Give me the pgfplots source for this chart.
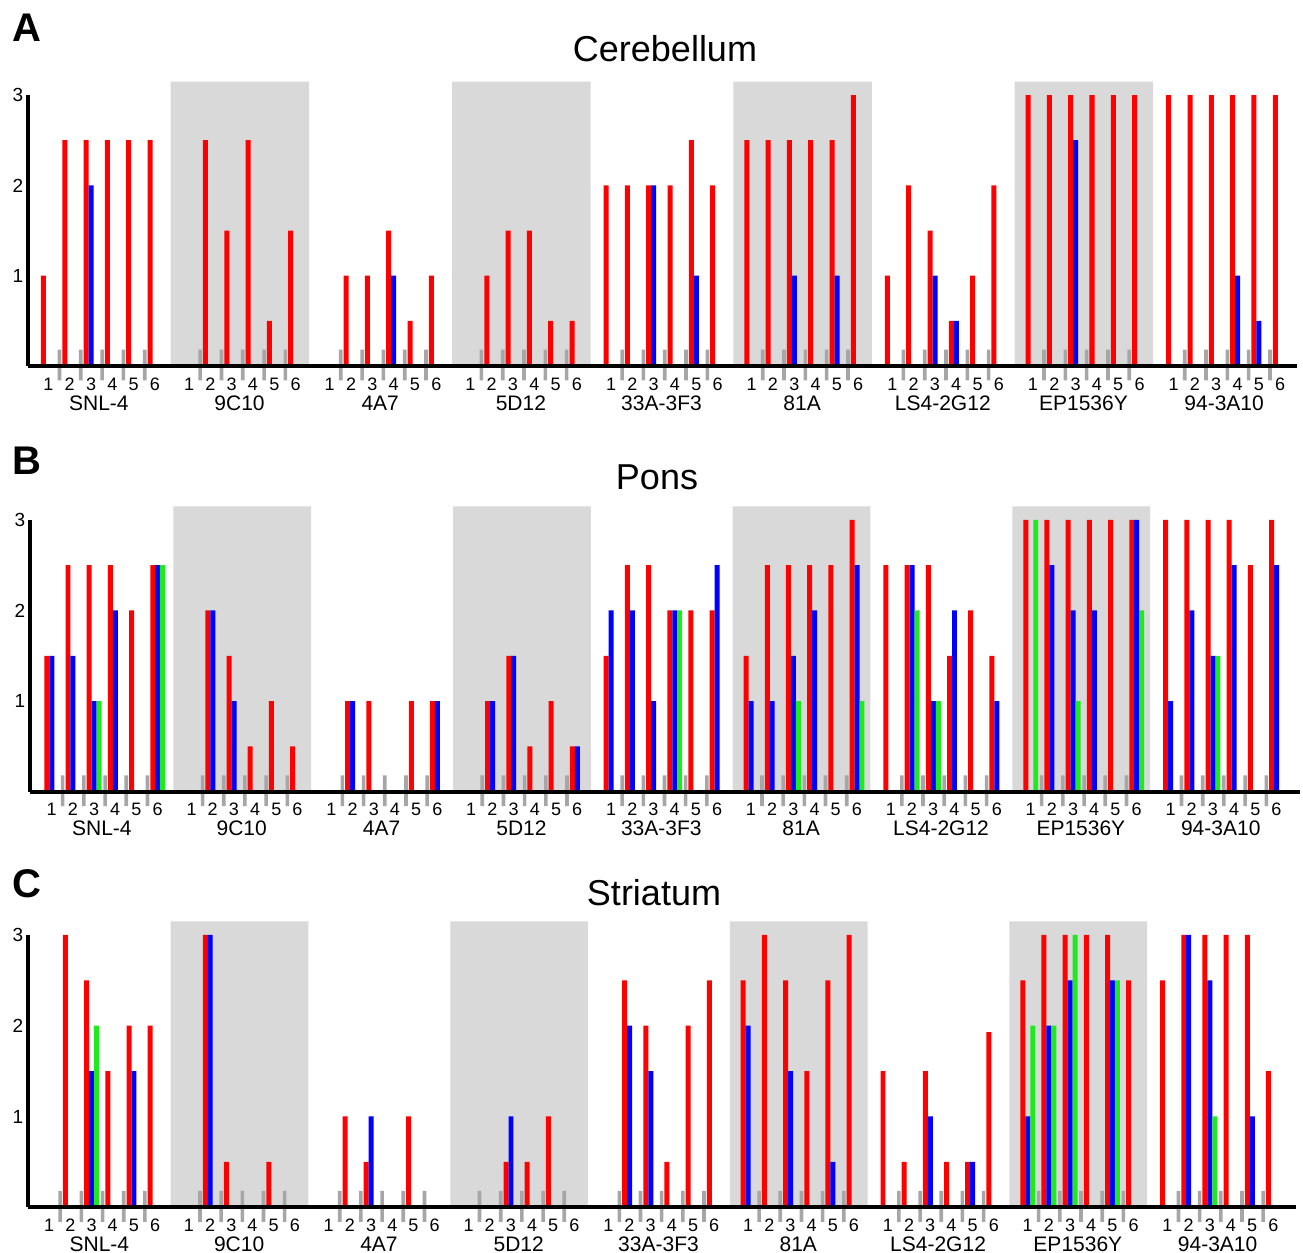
\documentclass[border=0pt]{standalone}
\usepackage{fontspec}
\setmainfont{Liberation Sans}
\usepackage{pgfplots}
\pgfplotsset{compat=1.18}
\usepackage{pgfplotstable}

\definecolor{rbar}{RGB}{255,0,0}
\definecolor{bbar}{RGB}{0,0,255}
\definecolor{gbar}{RGB}{30,235,30}
\definecolor{tickgray}{RGB}{166,166,166}
\definecolor{shade}{RGB}{217,217,217}

% g = antibody group (0..8), c = case (1..6), r/b/gr = red/blue/green score
\pgfplotstableread{
g c r b gr
0 1 1 0 0
0 2 2.5 0 0
0 3 2.5 2 0
0 4 2.5 0 0
0 5 2.5 0 0
0 6 2.5 0 0
1 1 0 0 0
1 2 2.5 0 0
1 3 1.5 0 0
1 4 2.5 0 0
1 5 0.5 0 0
1 6 1.5 0 0
2 1 0 0 0
2 2 1 0 0
2 3 1 0 0
2 4 1.5 1 0
2 5 0.5 0 0
2 6 1 0 0
3 1 0 0 0
3 2 1 0 0
3 3 1.5 0 0
3 4 1.5 0 0
3 5 0.5 0 0
3 6 0.5 0 0
4 1 2 0 0
4 2 2 0 0
4 3 2 2 0
4 4 2 0 0
4 5 2.5 1 0
4 6 2 0 0
5 1 2.5 0 0
5 2 2.5 0 0
5 3 2.5 1 0
5 4 2.5 0 0
5 5 2.5 1 0
5 6 3 0 0
6 1 1 0 0
6 2 2 0 0
6 3 1.5 1 0
6 4 0.5 0.5 0
6 5 1 0 0
6 6 2 0 0
7 1 3 0 0
7 2 3 0 0
7 3 3 2.5 0
7 4 3 0 0
7 5 3 0 0
7 6 3 0 0
8 1 3 0 0
8 2 3 0 0
8 3 3 0 0
8 4 3 1 0
8 5 3 0.5 0
8 6 3 0 0
}\cerebellum

\pgfplotstableread{
g c r b gr
0 1 1.5 1.5 0
0 2 2.5 1.5 0
0 3 2.5 1 1
0 4 2.5 2 0
0 5 2 0 0
0 6 2.5 2.5 2.5
1 1 0 0 0
1 2 2 2 0
1 3 1.5 1 0
1 4 0.5 0 0
1 5 1 0 0
1 6 0.5 0 0
2 1 0 0 0
2 2 1 1 0
2 3 1 0 0
2 4 0 0 0
2 5 1 0 0
2 6 1 1 0
3 1 0 0 0
3 2 1 1 0
3 3 1.5 1.5 0
3 4 0.5 0 0
3 5 1 0 0
3 6 0.5 0.5 0
4 1 1.5 2 0
4 2 2.5 2 0
4 3 2.5 1 0
4 4 2 2 2
4 5 2 0 0
4 6 2 2.5 0
5 1 1.5 1 0
5 2 2.5 1 0
5 3 2.5 1.5 1
5 4 2.5 2 0
5 5 2.5 0 0
5 6 3 2.5 1
6 1 2.5 0 0
6 2 2.5 2.5 2
6 3 2.5 1 1
6 4 1.5 2 0
6 5 2 0 0
6 6 1.5 1 0
7 1 3 0 3
7 2 3 2.5 0
7 3 3 2 1
7 4 3 2 0
7 5 3 0 0
7 6 3 3 2
8 1 3 1 0
8 2 3 2 0
8 3 3 1.5 1.5
8 4 3 2.5 0
8 5 2.5 0 0
8 6 3 2.5 0
}\pons

\pgfplotstableread{
g c r b gr
0 1 0 0 0
0 2 3 0 0
0 3 2.5 1.5 2
0 4 1.5 0 0
0 5 2 1.5 0
0 6 2 0 0
1 1 0 0 0
1 2 3 3 0
1 3 0.5 0 0
1 4 0 0 0
1 5 0.5 0 0
1 6 0 0 0
2 1 0 0 0
2 2 1 0 0
2 3 0.5 1 0
2 4 0 0 0
2 5 1 0 0
2 6 0 0 0
3 1 0 0 0
3 2 0 0 0
3 3 0.5 1 0
3 4 0.5 0 0
3 5 1 0 0
3 6 0 0 0
4 1 0 0 0
4 2 2.5 2 0
4 3 2 1.5 0
4 4 0.5 0 0
4 5 2 0 0
4 6 2.5 0 0
5 1 2.5 2 0
5 2 3 0 0
5 3 2.5 1.5 0
5 4 1.5 0 0
5 5 2.5 0.5 0
5 6 3 0 0
6 1 1.5 0 0
6 2 0.5 0 0
6 3 1.5 1 0
6 4 0.5 0 0
6 5 0.5 0.5 0
6 6 1.93 0 0
7 1 2.5 1 2
7 2 3 2 2
7 3 3 2.5 3
7 4 3 0 0
7 5 3 2.5 2.5
7 6 2.5 0 0
8 1 2.5 0 0
8 2 3 3 0
8 3 3 2.5 1
8 4 3 0 0
8 5 3 1 0
8 6 1.5 0 0
}\striatum

% grey case separators (above / below the baseline)
\pgfplotstableread{
g c t b
0 2 0.18 -0.16
0 3 0.18 -0.16
0 4 0.18 -0.16
0 5 0.18 -0.16
0 6 0.18 -0.16
1 2 0.18 -0.16
1 3 0.18 -0.16
1 4 0.18 -0.16
1 5 0.18 -0.16
1 6 0.18 -0.16
2 2 0.18 -0.16
2 3 0.18 -0.16
2 4 0.18 -0.16
2 5 0.18 -0.16
2 6 0.18 -0.16
3 2 0.18 -0.16
3 3 0.18 -0.16
3 4 0.18 -0.16
3 5 0.18 -0.16
3 6 0.18 -0.16
4 2 0.18 -0.16
4 3 0.18 -0.16
4 4 0.18 -0.16
4 5 0.18 -0.16
4 6 0.18 -0.16
5 2 0.18 -0.16
5 3 0.18 -0.16
5 4 0.18 -0.16
5 5 0.18 -0.16
5 6 0.18 -0.16
6 2 0.18 -0.16
6 3 0.18 -0.16
6 4 0.18 -0.16
6 5 0.18 -0.16
6 6 0.18 -0.16
7 2 0.18 -0.16
7 3 0.18 -0.16
7 4 0.18 -0.16
7 5 0.18 -0.16
7 6 0.18 -0.16
8 2 0.18 -0.16
8 3 0.18 -0.16
8 4 0.18 -0.16
8 5 0.18 -0.16
8 6 0.18 -0.16
}\marks

% shaded background boxes
\pgfplotstableread{
g top
1 3.15
3 3.15
5 3.15
7 3.15
}\shades

\tikzset{
  casel/.style={anchor=center, inner sep=0pt, yshift=-9pt,
    font=\fontsize{9pt}{10pt}\selectfont},
  grpl/.style={anchor=center, inner sep=0pt, yshift=-18.5pt,
    font=\fontsize{10.5pt}{12pt}\selectfont},
  ylab/.style={anchor=center, inner sep=0pt, xshift=-5pt,
    font=\fontsize{9.5pt}{11pt}\selectfont},
  ttl/.style={anchor=base, inner sep=0pt, font=\fontsize{18pt}{21pt}\selectfont},
  letter/.style={anchor=base west, inner sep=0pt, font=\fontsize{20pt}{24pt}\selectfont\bfseries},
}

\pgfplotsset{
  panel/.style={
    scale only axis, clip=false, axis on top,
    anchor=south west,
    ymin=0, ymax=3,
    axis x line=bottom, axis y line=left,
    axis line style={-, line width=2pt},
    xtick=\empty, ytick=\empty,
  },
}

\newcommand{\panelbody}[1]{%
  \addplot[ybar, bar width=6.5, bar shift=0, fill=shade, draw=none]
    table[x expr=6.6*\thisrow{g}+2.62, y=top] {\shades};
  \addplot[ybar, bar width=0.17, bar shift=-0.25, fill=tickgray, draw=none]
    table[x expr=6.6*\thisrow{g}+\thisrow{c}-1, y=t] {\marks};
  \addplot[ybar, bar width=0.17, bar shift=-0.25, fill=tickgray, draw=none]
    table[x expr=6.6*\thisrow{g}+\thisrow{c}-1, y=b] {\marks};
  \addplot[ybar, bar width=0.235, bar shift=0, fill=rbar, draw=none]
    table[x expr=6.6*\thisrow{g}+\thisrow{c}-1, y=r] {#1};
  \addplot[ybar, bar width=0.235, bar shift=0.235, fill=bbar, draw=none]
    table[x expr=6.6*\thisrow{g}+\thisrow{c}-1, y=b] {#1};
  \addplot[ybar, bar width=0.235, bar shift=0.47, fill=gbar, draw=none]
    table[x expr=6.6*\thisrow{g}+\thisrow{c}-1, y=gr] {#1};
  \pgfplotsinvokeforeach{0,...,8}{%
    \node[casel] at (axis cs:{6.6*##1+0.23},0) {1};
    \node[casel] at (axis cs:{6.6*##1+1.23},0) {2};
    \node[casel] at (axis cs:{6.6*##1+2.23},0) {3};
    \node[casel] at (axis cs:{6.6*##1+3.23},0) {4};
    \node[casel] at (axis cs:{6.6*##1+4.23},0) {5};
    \node[casel] at (axis cs:{6.6*##1+5.23},0) {6};
  }
  \foreach \g/\nm in {0/SNL-4,1/9C10,2/4A7,3/5D12,4/33A-3F3,5/81A,6/LS4-2G12,7/EP1536Y,8/94-3A10}{%
    \edef\tmp{\noexpand\node[grpl] at (axis cs:{6.6*\g+2.6},0) {\nm};}\tmp
  }
  \node[ylab] at (rel axis cs:0,1) {3};
  \node[ylab] at (rel axis cs:0,0.6667) {2};
  \node[ylab] at (rel axis cs:0,0.3333) {1};
}

\begin{document}
\begin{tikzpicture}
\path[use as bounding box] (0,0) rectangle (651.5pt,626.5pt);

\begin{axis}[panel, at={(14pt,443.5pt)}, width=634.5pt, height=135.45pt,
  xmin=-0.727, xmax=58.82]
  \panelbody{\cerebellum}
\end{axis}

\begin{axis}[panel, at={(15pt,230.65pt)}, width=635pt, height=135.9pt,
  xmin=-0.793, xmax=59.14]
  \panelbody{\pons}
\end{axis}

\begin{axis}[panel, at={(14pt,22.85pt)}, width=634pt, height=136.2pt,
  xmin=-0.770, xmax=59.10]
  \panelbody{\striatum}
\end{axis}

\node[letter] at (6pt,605.5pt) {A};
\node[letter] at (6pt,389pt) {B};
\node[letter] at (6pt,177.5pt) {C};
\node[ttl] at (332.5pt,595.5pt) {Cerebellum};
\node[ttl] at (328.5pt,381.5pt) {Pons};
\node[ttl] at (327pt,173.5pt) {Striatum};
\end{tikzpicture}
\end{document}
